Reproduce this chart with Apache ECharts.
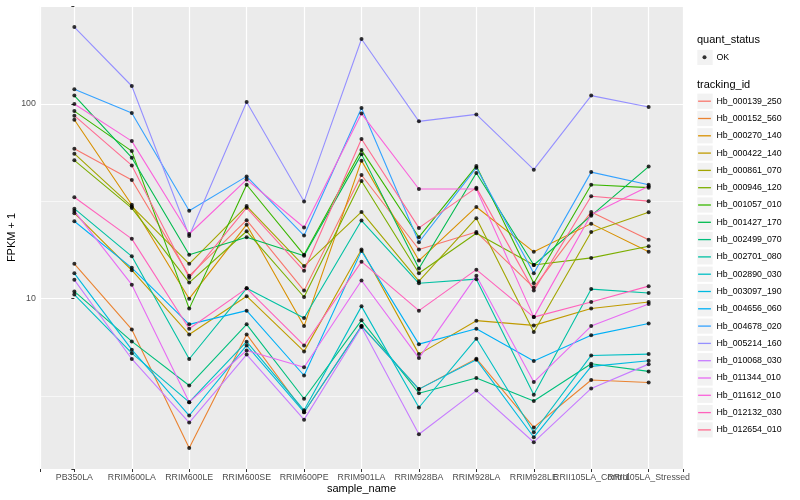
<!DOCTYPE html>
<html>
<head>
<meta charset="utf-8">
<script src="https://cdn.jsdelivr.net/npm/echarts@6/dist/echarts.min.js"></script>
<style>html,body{margin:0;padding:0;background:#fff}#c{width:800px;height:500px}</style>
</head>
<body>
<div id="c"></div>
<script>
// ---- data (FPKM + 1) ----
const categories = ["PB350LA","RRIM600LA","RRIM600LE","RRIM600SE","RRIM600PE","RRIM901LA","RRIM928BA","RRIM928LA","RRIM928LE","RRII105LA_Control","RRII105LA_Stressed"];
const trackingIds = ["Hb_000139_250","Hb_000152_560","Hb_000270_140","Hb_000422_140","Hb_000861_070","Hb_000946_120","Hb_001057_010","Hb_001427_170","Hb_002499_070","Hb_002701_080","Hb_002890_030","Hb_003097_190","Hb_004656_060","Hb_004678_020","Hb_005214_160","Hb_010068_030","Hb_011344_010","Hb_011612_010","Hb_012132_030","Hb_012654_010"];
const hb000139_250 = [59.0, 40.7, 13.1, 25.3, 11.0, 43.2, 17.9, 22.0, 11.4, 27.9, 20.1];
const hb000152_560 = [15.1, 6.95, 1.71, 6.55, 2.61, 7.23, 3.43, 4.92, 2.18, 3.82, 3.71];
const hb000270_140 = [83.1, 30.4, 10.0, 24.0, 7.23, 51.2, 15.7, 29.6, 17.4, 24.3, 17.4];
const hb000422_140 = [27.5, 14.0, 6.55, 10.3, 5.36, 17.9, 5.19, 7.71, 7.29, 8.91, 9.61];
const hb000861_070 = [55.6, 29.8, 15.1, 29.9, 14.7, 27.9, 12.3, 25.9, 6.74, 22.0, 27.8];
const hb000946_120 = [51.4, 29.2, 12.1, 22.2, 10.2, 40.2, 13.5, 21.7, 14.9, 16.2, 18.6];
const hb001057_010 = [92.0, 57.3, 8.89, 38.5, 16.8, 58.0, 20.7, 48.0, 12.0, 38.5, 37.2];
const hb001427_170 = [110.5, 53.0, 16.8, 20.7, 16.6, 55.3, 14.3, 44.2, 14.9, 26.7, 47.7];
const hb002499_070 = [10.9, 6.03, 3.58, 7.38, 3.06, 7.74, 3.27, 3.91, 2.98, 4.63, 4.23];
const hb002701_080 = [29.0, 16.5, 4.90, 11.3, 7.95, 25.2, 12.0, 12.6, 3.21, 11.2, 10.7];
const hb002890_030 = [10.5, 5.25, 2.94, 6.01, 2.67, 9.13, 2.76, 6.23, 2.06, 5.11, 5.19];
const hb003097_190 = [13.5, 5.47, 2.51, 5.75, 2.61, 7.23, 3.43, 4.86, 1.94, 4.49, 4.80];
const hb004656_060 = [25.0, 14.4, 7.38, 8.68, 4.03, 17.6, 5.84, 7.01, 4.78, 6.48, 7.46];
const hb004678_020 = [119, 89.9, 28.3, 42.5, 21.1, 95.4, 19.5, 47.1, 13.5, 44.7, 38.5];
const hb005214_160 = [248.7, 123.8, 21.0, 102.4, 31.6, 215.8, 81.5, 88.5, 46.0, 110.5, 96.5];
const hb010068_030 = [12.5, 4.90, 2.31, 5.16, 2.39, 7.15, 2.01, 3.37, 1.83, 3.46, 4.61];
const hb011344_010 = [28.2, 11.8, 2.94, 5.42, 4.44, 12.4, 4.95, 13.1, 3.73, 7.23, 9.38];
const hb011612_010 = [100, 64.5, 21.5, 40.9, 23.2, 89.3, 36.6, 36.6, 8.04, 27.1, 37.8];
const hb012132_030 = [33.2, 20.3, 7.01, 11.3, 5.75, 15.5, 8.68, 14.1, 8.04, 9.61, 11.6];
const hb012654_010 = [87.2, 48.4, 12.8, 29.3, 13.9, 66.1, 23.1, 37.2, 11.0, 33.6, 31.7];
const yTickLabels = [10, 100];
const statusName = "OK";

// ---- styling ----
const colors = ["#F8766D","#EA8331","#D89000","#C09B00","#A3A500","#7CAE00","#39B600","#00BB4E","#00BF7D","#00C1A3","#00BFC4","#00BAE0","#00B0F6","#35A2FF","#9590FF","#C77CFF","#E76BF3","#FA62DB","#FF62BC","#FF6C91"];
const FONT = "Liberation Sans, Arial, Helvetica, sans-serif";

const seriesValues = [hb000139_250,hb000152_560,hb000270_140,hb000422_140,hb000861_070,hb000946_120,hb001057_010,hb001427_170,hb002499_070,hb002701_080,hb002890_030,hb003097_190,hb004656_060,hb004678_020,hb005214_160,hb010068_030,hb011344_010,hb011612_010,hb012132_030,hb012654_010];

const allVals = seriesValues.flat();
const lo = Math.log10(Math.min(...allVals));
const hi = Math.log10(Math.max(...allVals));
const pad = (hi - lo) * 0.05;
const yMin = Math.pow(10, lo - pad);
const yMax = Math.pow(10, hi + pad);

const lineSeries = seriesValues.map((vals, k) => ({
  name: trackingIds[k],
  type: 'line',
  data: vals.map((v, i) => [i, v]),
  symbol: 'none',
  color: colors[k],
  itemStyle: { color: colors[k] },
  lineStyle: { color: colors[k], width: 1.1 },
  z: 2,
  silent: true
}));

const pointSeries = {
  name: statusName,
  type: 'scatter',
  data: seriesValues.flatMap(vals => vals.map((v, i) => [i, v])),
  symbol: 'circle',
  symbolSize: 4,
  itemStyle: { color: '#000' },
  z: 3,
  silent: true
};

// grey legend key backgrounds
const keyTop0 = 93.6, keyStep = 17.3;
const keyRects = trackingIds.map((_, i) => ({
  type: 'rect', left: 697.3, top: keyTop0 + i * keyStep, z: 0,
  shape: { width: 15.4, height: 15.2 }, style: { fill: '#F2F2F2' }
}));
keyRects.push({ type: 'rect', left: 697.3, top: 49.8, z: 0, shape: { width: 15.4, height: 15.2 }, style: { fill: '#F2F2F2' } });

const legendItems = trackingIds.map((n, k) => ({
  name: n,
  icon: 'path://M0,0M14,14M0.6,6.35H13.4V7.65H0.6Z',
  itemStyle: { color: colors[k], borderWidth: 0, borderColor: colors[k], opacity: 1 }
}));

const chart = echarts.init(document.getElementById('c'), null, { renderer: 'canvas' });
chart.setOption({
  animation: false,
  backgroundColor: '#fff',
  textStyle: { fontFamily: FONT },
  title: [
    { text: 'quant_status', left: 697, top: 34.5, padding: 0, textStyle: { fontSize: 11, fontWeight: 'normal', color: '#000', fontFamily: FONT } },
    { text: 'tracking_id', left: 697, top: 79.5, padding: 0, textStyle: { fontSize: 11, fontWeight: 'normal', color: '#000', fontFamily: FONT } }
  ],
  graphic: keyRects,
  legend: [
    { data: [statusName], orient: 'vertical', left: 697.5, top: 50.3, padding: 0,
      itemWidth: 14, itemHeight: 14, selectedMode: false,
      icon: 'path://M0,0M14,14M5,7a2,2 0 1,0 4,0a2,2 0 1,0 -4,0',
      itemStyle: { borderWidth: 0 },
      textStyle: { fontSize: 8.8, color: '#000', fontFamily: FONT } },
    { data: legendItems, orient: 'vertical', left: 697.5, top: 94.2, padding: 0,
      itemWidth: 14, itemHeight: 14, itemGap: 3.3, selectedMode: false,
      itemStyle: { borderWidth: 0 },
      textStyle: { fontSize: 8.8, color: '#000', fontFamily: FONT } }
  ],
  grid: { left: 39.9, right: 116.9, top: 6, bottom: 31, outerBoundsMode: 'none', containLabel: false,
          show: true, backgroundColor: '#EBEBEB', borderWidth: 0 },
  xAxis: {
    type: 'value', min: -0.6, max: categories.length - 1 + 0.6, splitNumber: 10,
    axisLine: { show: false },
    axisTick: { show: true, length: 3, lineStyle: { color: '#333', width: 1 } },
    axisLabel: { margin: 4, fontSize: 8.8, color: '#4D4D4D', fontFamily: FONT,
      formatter: v => (Number.isInteger(v) && categories[v] !== undefined) ? categories[v] : '' },
    splitLine: { show: true, lineStyle: { color: '#fff', width: 1.2 } },
    name: 'sample_name', nameLocation: 'middle', nameGap: 14, nameMoveOverlap: false,
    nameTextStyle: { fontSize: 11, color: '#000', fontFamily: FONT }
  },
  yAxis: [
    {
      type: 'log', logBase: 10, min: yMin, max: yMax,
      axisLine: { show: false },
      axisTick: { show: true, length: 3, lineStyle: { color: '#333', width: 1 } },
      axisLabel: { margin: 4, fontSize: 8.8, color: '#4D4D4D', fontFamily: FONT,
        formatter: v => { const r = Math.round(v); return (yTickLabels.includes(r) && Math.abs(v - r) < 1e-6) ? String(r) : ''; } },
      splitLine: { show: true, lineStyle: { color: '#fff', width: 1.2 } },
      name: 'FPKM + 1', nameLocation: 'middle', nameGap: 22, nameRotate: 90, nameMoveOverlap: false,
      nameTextStyle: { fontSize: 11, color: '#000', fontFamily: FONT }
    },
    {
      type: 'value', min: lo - pad, max: hi + pad, splitNumber: 5,
      axisLine: { show: false }, axisTick: { show: false }, axisLabel: { show: false },
      splitLine: { show: true, lineStyle: { color: '#fff', width: 0.6 } }
    }
  ],
  series: [...lineSeries, pointSeries]
});
</script>
</body>
</html>
